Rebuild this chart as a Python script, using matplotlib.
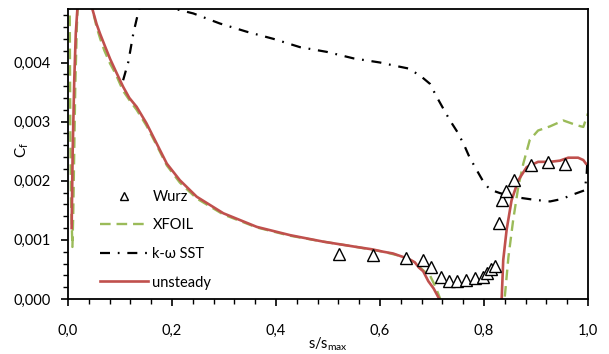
import numpy as np
import matplotlib
matplotlib.use("Agg")
import matplotlib.pyplot as plt
from matplotlib.ticker import FuncFormatter, MultipleLocator

plt.rcParams['font.family'] = ['Lato', 'DejaVu Sans']
plt.rcParams['mathtext.fontset'] = 'custom'
plt.rcParams['mathtext.rm'] = 'Lato'

# Wurz experiment
wurz_s = [0.522, 0.587, 0.650, 0.682, 0.699, 0.717, 0.733, 0.749, 0.765, 0.782,
          0.798, 0.805, 0.813, 0.822, 0.828, 0.835, 0.842, 0.858, 0.890, 0.924, 0.956]
wurz_cf = [0.00076, 0.00074, 0.00070, 0.00066, 0.000535, 0.000367, 0.000304, 0.000304,
           0.00032, 0.00036, 0.00037, 0.00044, 0.00050, 0.00055, 0.00128, 0.00167,
           0.00182, 0.00202, 0.00227, 0.00232, 0.00228]

# XFOIL
xfoil_s = [0.003, 0.0038, 0.0045, 0.006, 0.0085, 0.010, 0.012, 0.014, 0.017, 0.020, 0.030,
           0.040, 0.047, 0.055, 0.062, 0.070, 0.081, 0.092, 0.106, 0.120, 0.132, 0.151,
           0.1705, 0.190, 0.215, 0.2475, 0.2987, 0.363, 0.427, 0.491, 0.555, 0.606,
           0.638, 0.667, 0.675, 0.685, 0.696, 0.706, 0.716, np.nan,
           0.840, 0.847, 0.856, 0.866, 0.8756, 0.888, 0.904, 0.927, 0.9525, 0.978,
           0.991, 1.0]
xfoil_cf = [0.0055, 0.0040, 0.0028, 0.0016, 0.00088, 0.0014, 0.0025, 0.0036, 0.0046,
            0.0052, 0.0057, 0.0052, 0.0049, 0.00460, 0.00440, 0.00420, 0.00398, 0.00380,
            0.00352, 0.00334, 0.00320, 0.00293, 0.00260, 0.00226, 0.00197, 0.00170,
            0.00143, 0.00121, 0.00107, 0.00097, 0.00088, 0.00080, 0.00073, 0.00062,
            0.00055, 0.00047, 0.00040, 0.00022, 0.0, np.nan,
            0.00004, 0.00071, 0.00133, 0.00190, 0.00229, 0.00269, 0.00285, 0.00292,
            0.00302, 0.00294, 0.00291, 0.00314]

# k-omega SST
sst_s = [0.106, 0.116, 0.1256, 0.133, 0.140, 0.150, 0.180, 0.209, 0.241, 0.292, 0.344,
         0.395, 0.446, 0.4975, 0.549, 0.600, 0.626, 0.654, 0.677, 0.696, 0.709, 0.7217,
         0.7346, 0.7506, 0.7635, 0.772, 0.786, 0.799, 0.8115, 0.831, 0.863, 0.895,
         0.927, 0.949, 0.972, 0.994, 0.9975, 0.9987]
sst_cf = [0.0037, 0.00401, 0.00449, 0.00477, 0.0050, 0.0052, 0.0051, 0.0049, 0.00483,
          0.00466, 0.00452, 0.00440, 0.00426, 0.00418, 0.00407, 0.00400, 0.00395,
          0.00390, 0.00378, 0.00364, 0.00342, 0.00322, 0.00302, 0.00280, 0.00257,
          0.00240, 0.00218, 0.00198, 0.00185, 0.00179, 0.00172, 0.00168, 0.00165,
          0.00169, 0.00177, 0.00184, 0.00212, 0.00232]

# unsteady
uns_s = [0.007, 0.009, 0.012, 0.015, 0.018, 0.022, 0.030, 0.040, 0.047, 0.055, 0.0615,
         0.070, 0.081, 0.092, 0.106, 0.118, 0.132, 0.151, 0.1705, 0.190, 0.215, 0.2475,
         0.2987, 0.363, 0.427, 0.491, 0.555, 0.585, 0.606, 0.625, 0.638, 0.655, 0.667,
         0.675, 0.683, 0.693, 0.703, 0.714, np.nan,
         0.834, 0.837, 0.8435, 0.853, 0.866, 0.882, 0.904, 0.927, 0.946, 0.962, 0.981,
         0.991, 0.996]
uns_cf = [0.00120, 0.0025, 0.0037, 0.0045, 0.0049, 0.0054, 0.0058, 0.0053, 0.0049,
          0.00465, 0.00449, 0.00430, 0.00406, 0.00385, 0.00359, 0.00340, 0.00325,
          0.00297, 0.00263, 0.00229, 0.00201, 0.00173, 0.00145, 0.00122, 0.00108,
          0.00097, 0.00088, 0.00084, 0.00080, 0.00077, 0.00073, 0.00068, 0.00062,
          0.00053, 0.00047, 0.00030, 0.00018, 0.0, np.nan,
          0.0, 0.00066, 0.00117, 0.00167, 0.00201, 0.00223, 0.00232, 0.00232,
          0.00234, 0.00239, 0.00239, 0.00235, 0.00229]

fig = plt.figure(figsize=(6.09, 3.54), dpi=100)
ax = fig.add_axes([68/609, 55/354, 520/609, 289.7/354])

ax.plot(wurz_s, wurz_cf, linestyle='none', marker='^', markersize=8,
        markerfacecolor='white', markeredgecolor='black', markeredgewidth=1.0,
        label='Wurz', zorder=5)
ax.plot(xfoil_s, xfoil_cf, color='#9BBB59', lw=1.7, dashes=(4.5, 2.5), label='XFOIL')
ax.plot(sst_s, sst_cf, color='black', lw=1.6, dashes=(4.5, 3.5, 0.8, 3.5), label='k-ω SST')
ax.plot(uns_s, uns_cf, color='#C0504D', lw=1.9, label='unsteady')

ax.set_xlim(0, 1.0)
ax.set_ylim(0, 0.0049)
ax.xaxis.set_major_locator(MultipleLocator(0.2))
ax.xaxis.set_minor_locator(MultipleLocator(0.04))
ax.yaxis.set_major_locator(MultipleLocator(0.001))
ax.yaxis.set_minor_locator(MultipleLocator(0.0002))
ax.xaxis.set_major_formatter(FuncFormatter(lambda v, p: f"{v:.1f}".replace('.', ',')))
ax.yaxis.set_major_formatter(FuncFormatter(lambda v, p: f"{v:.3f}".replace('.', ',')))
ax.tick_params(axis='both', which='major', direction='out', length=5, width=1.2,
               labelsize=10.5, colors='black')
ax.tick_params(axis='both', which='minor', direction='out', length=3.5, width=1.0)
ax.tick_params(axis='x', which='major', pad=13)
ax.tick_params(axis='y', which='major', pad=7.5)
for sp in ax.spines.values():
    sp.set_linewidth(1.3)
    sp.set_color('black')

ax.set_ylabel(r'C$_\mathregular{f}$', fontsize=11)
ax.yaxis.set_label_coords(-0.072, 0.514)
ax.set_xlabel(r's/s$_\mathregular{max}$', fontsize=10.5)
ax.xaxis.set_label_coords(0.5, -0.125)

leg = ax.legend(loc='upper left', bbox_to_anchor=(0.0615, 0.377), frameon=False,
                borderpad=0, borderaxespad=0, handlelength=3.3, handletextpad=0.3,
                labelspacing=1.0, fontsize=10.5, markerscale=0.75)

fig.savefig('out.png', dpi=100)
